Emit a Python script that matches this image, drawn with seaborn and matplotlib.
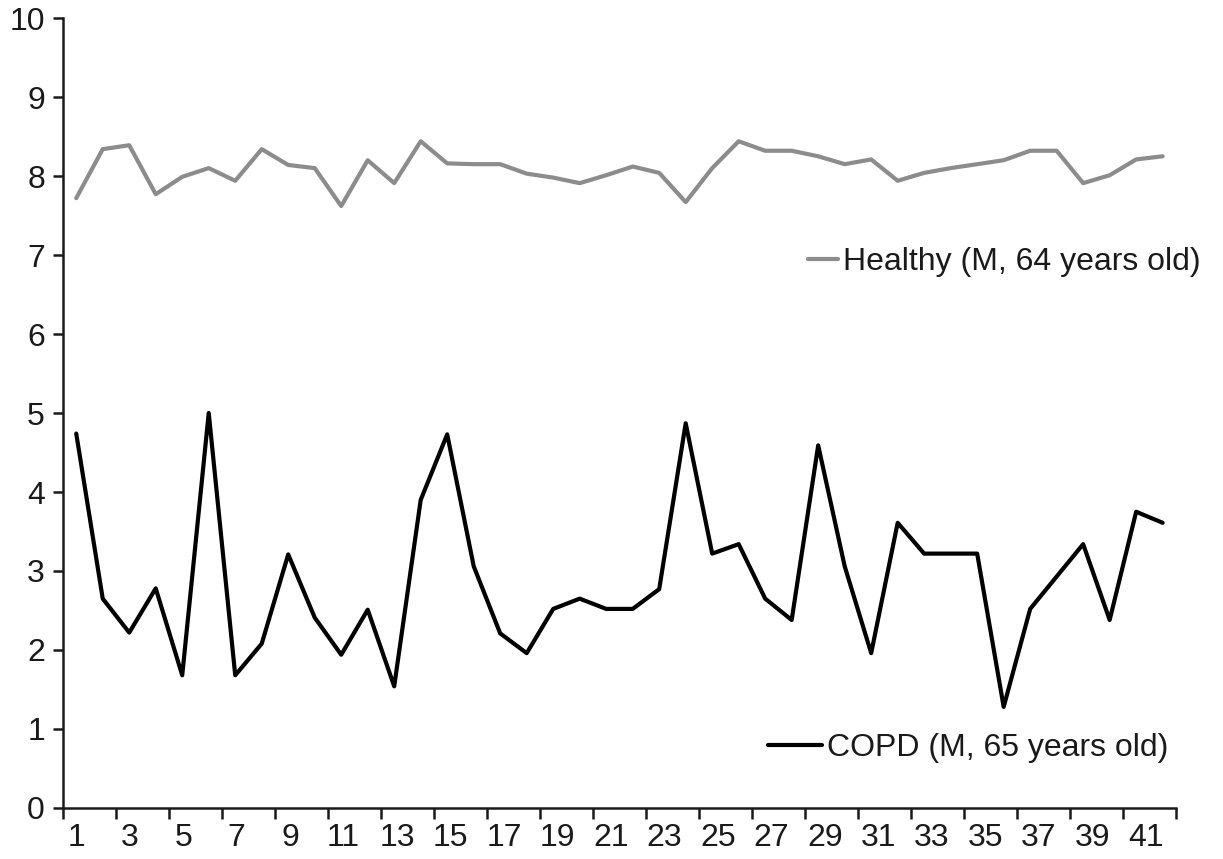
"""
plot.py
-------
Daily values of a healthy subject vs a COPD patient over 42 days.
Run: python plot.py
"""

import numpy as np
import pandas as pd
import matplotlib.pyplot as plt
from matplotlib.lines import Line2D
import seaborn as sns

# ── Data ─────────────────────────────────────────────────────────────────────
day = list(range(1, 43))
healthy = [7.72, 8.34, 8.39, 7.77, 7.99, 8.10, 7.94, 8.34, 8.14, 8.10,
           7.62, 8.20, 7.91, 8.44, 8.16, 8.15, 8.15, 8.03, 7.98, 7.91,
           8.01, 8.12, 8.04, 7.67, 8.10, 8.44, 8.32, 8.32, 8.25, 8.15,
           8.21, 7.94, 8.04, 8.10, 8.15, 8.20, 8.32, 8.32, 7.91, 8.01,
           8.21, 8.25]
copd = [4.74, 2.65, 2.22, 2.78, 1.68, 5.00, 1.68, 2.08, 3.21, 2.41,
        1.94, 2.51, 1.54, 3.90, 4.73, 3.06, 2.21, 1.96, 2.52, 2.65,
        2.52, 2.52, 2.77, 4.87, 3.22, 3.34, 2.65, 2.38, 4.59, 3.06,
        1.96, 3.61, 3.22, 3.22, 3.22, 1.28, 2.52, 2.93, 3.34, 2.38,
        3.75, 3.61]
healthy_label = "Healthy (M, 64 years old)"
copd_label = "COPD (M, 65 years old)"
xtick_days = list(range(1, 42, 2))
xtick_labels = [str(d) for d in xtick_days]
ytick_pos = list(range(0, 11))

GRAY = "#8c8c8c"
INK = "#1a1a1a"
LW = 3.0
FS = 23

# ── Style ────────────────────────────────────────────────────────────────────
sns.set_theme(style="white")
plt.rcParams["font.family"] = ["Liberation Sans", "DejaVu Sans"]

df = pd.DataFrame({"Day": day, "Healthy": healthy, "COPD": copd})

fig = plt.figure(figsize=(12.23, 8.59), dpi=100)
ax = fig.add_axes([0.0515, 0.0594, 0.910, 0.9196])

sns.lineplot(data=df, x="Day", y="Healthy", color=GRAY, lw=LW, ax=ax)
sns.lineplot(data=df, x="Day", y="COPD", color="black", lw=LW, ax=ax)

# ── Axes ─────────────────────────────────────────────────────────────────────
ax.set_xlim(0.5, 42.5)
ax.set_ylim(0, 10)
ax.set_xlabel(""); ax.set_ylabel("")
# the source's labels drift slightly right of their categories
label_pos = [1 + (d - 1) * 1.009 for d in xtick_days]
ax.set_xticks(label_pos)
ax.set_xticklabels(xtick_labels)
ax.set_xticks(np.arange(0.5, 43, 2), minor=True)
ax.tick_params(axis="x", which="major", length=0, pad=11, labelsize=FS,
               colors=INK)
ax.tick_params(axis="x", which="minor", bottom=True, length=8, width=1.8,
               direction="out", color=INK)
ax.set_yticks(ytick_pos)
ax.tick_params(axis="y", left=True, length=7, width=1.8, pad=6,
               labelsize=FS, direction="out", colors=INK)
for side in ["top", "right"]:
    ax.spines[side].set_visible(False)
for side in ["left", "bottom"]:
    ax.spines[side].set_color(INK)
    ax.spines[side].set_linewidth(1.8)

# ── Series labels (two separate legends, placed by the lines) ───────────────
leg1 = ax.legend([Line2D([], [], color=GRAY, lw=LW)], [healthy_label],
                 loc="center left", bbox_to_anchor=(28.6, 6.91),
                 bbox_transform=ax.transData, frameon=False, fontsize=FS,
                 handlelength=0.95, handletextpad=0.15, borderpad=0,
                 borderaxespad=0, labelcolor=INK)
ax.add_artist(leg1)
ax.legend([Line2D([], [], color="black", lw=LW)], [copd_label],
          loc="center left", bbox_to_anchor=(27.1, 0.76),
          bbox_transform=ax.transData, frameon=False, fontsize=FS,
          handlelength=1.7, handletextpad=0.15, borderpad=0,
          borderaxespad=0, labelcolor=INK)

fig.savefig("out.png", dpi=100, facecolor="white")
plt.close(fig)
